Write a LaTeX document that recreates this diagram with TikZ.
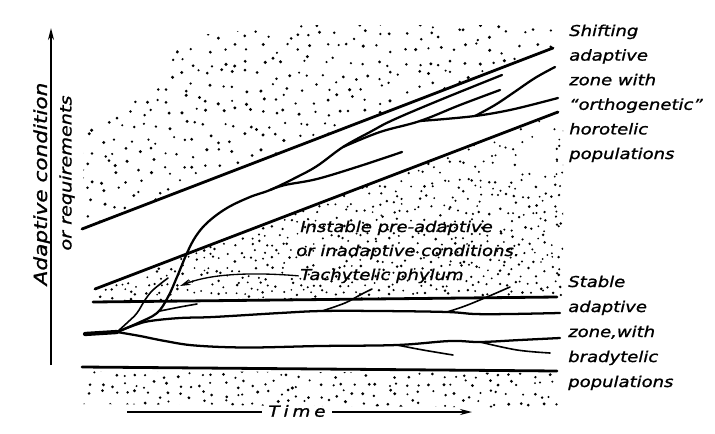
\documentclass[tikz,border=0pt]{standalone}
\usepackage{fontspec}
\usetikzlibrary{arrows.meta}
\newfontfamily\hand[FakeStretch=1.2,FakeBold=1.2]{DejaVu Sans}
\newfontfamily\handsp[FakeStretch=1.2,FakeBold=1.2,LetterSpace=25]{DejaVu Sans}
\begin{document}
\begin{tikzpicture}[x=0.75pt,y=-0.75pt,
  bound/.style={line width=2.1pt, line cap=round},
  lin/.style={line width=1.7pt, line cap=round, line join=round},
  thinlin/.style={line width=1.2pt, line cap=round, line join=round},
  lab/.style={font=\hand\itshape\fontsize{11.25}{13}\selectfont, inner sep=0pt, anchor=base west},
  stip/.style={fill=black}]
\fill[white] (0,0) rectangle (715,433);
\useasboundingbox (0,0) rectangle (715,433);
\pgfmathsetseed{17}
% ---------- stipple: upper region ----------
\begin{scope}
\clip (82,229) -- (84,150) -- (90,122) -- (130,100) -- (163,78) -- (177,50) -- (200,35) -- (300,25) -- (552,25) -- (556,45) -- (553,48) -- cycle;
\foreach \i in {78,91,...,562} {
  \foreach \j in {22,35,...,236} {
    \fill[stip] ({\i+5.5*rand},{\j+5.5*rand}) circle[radius={0.85pt+0.45pt*rnd}];
  }
}
\end{scope}
% ---------- stipple: middle region ----------
\begin{scope}
\clip (93,289) -- (558,112) -- (563,112) -- (563,297) -- (93,302) -- cycle;
\foreach \i in {90,98,...,566} {
  \foreach \j in {108,116,...,306} {
    \pgfmathtruncatemacro\keep{rnd < (0.35 + 0.6*(\j-108)/190) ? 1 : 0}
    \ifnum\keep=1
      \fill[stip] ({\i+3.5*rand},{\j+3.5*rand}) circle[radius={0.7pt+0.4pt*rnd}];
    \fi
  }
}
\end{scope}
% ---------- stipple: lower region ----------
\begin{scope}
\clip (82,371) -- (557,373) -- (560,408) -- (82,404) -- cycle;
\foreach \i in {80,91,...,562} {
  \foreach \j in {374,384,...,410} {
    \fill[stip] ({\i+4.5*rand},{\j+4*rand}) circle[radius={0.8pt+0.45pt*rnd}];
  }
}
\end{scope}
% ---------- zone boundaries ----------
\coordinate (ta) at (82,229);  \coordinate (tb) at (553,48);
\coordinate (ua) at (95,289);  \coordinate (ub) at (558,112);
\coordinate (sa) at (93,302);  \coordinate (sb) at (557,297);
\coordinate (ba) at (82,367);  \coordinate (bb) at (557,371);
\draw[bound] (ta) -- (tb);
\draw[bound] (ua) -- (ub);
\draw[bound] (sa) -- (sb);
\draw[bound] (ba) -- (bb);
% ---------- lineages ----------
\coordinate (stub) at (85,334);
\coordinate (base) at (117,332);
\coordinate (fk) at (270,190);
\coordinate (fa) at (343,147);
\coordinate (fb) at (420,121);
\coordinate (fc) at (475,116);
\coordinate (ms) at (160,311);
\coordinate (m1) at (322,311);
\coordinate (m2) at (447,312);
\coordinate (l1) at (397,345);
\coordinate (l2) at (480,342);
\draw[line width=3.2pt, line cap=round] (stub) -- (base);
% tachytelic trunk and its continuation (branch A)
\draw[lin] plot[smooth, tension=0.6] coordinates {(base) (138,323) (157,313) (168,297) (177,277) (187,253) (196,236) (208,222) (227,208) (250,197) (fk) (295,178) (317,166) (fa) (370,132) (393,120) (440,100) (502,75)};
\draw[lin] plot[smooth, tension=0.6] coordinates {(fa) (380,132) (fb) (460,105) (500,90)};
\draw[lin] plot[smooth, tension=0.6] coordinates {(fb) (445,119) (fc) (500,112) (523,107) (558,98)};
\draw[lin] plot[smooth, tension=0.6] coordinates {(fc) (495,105) (513,93) (535,78) (555,67)};
\draw[lin] plot[smooth, tension=0.6] coordinates {(fk) (285,185) (317,179) (360,166) (402,152)};
\draw[thinlin] plot[smooth, tension=0.6] coordinates {(base) (128,322) (137,313) (145,300) (153,290) (168,278)};
\draw[thinlin] plot[smooth, tension=0.6] coordinates {(ms) (180,307) (197,304)};
% stable (bradytelic) lineages
\draw[lin] plot[smooth, tension=0.6] coordinates {(base) (135,325) (150,321) (180,318) (213,317) (280,313) (m1) (380,311) (m2) (475,314) (510,314) (560,313)};
\draw[thinlin] plot[smooth, tension=0.6] coordinates {(m1) (345,303) (360,295) (372,289)};
\draw[thinlin] plot[smooth, tension=0.6] coordinates {(m2) (465,306) (487,297) (510,287)};
\draw[lin] plot[smooth, tension=0.6] coordinates {(base) (140,336) (165,341) (195,345.5) (247,347.5) (320,346) (l1) (450,341) (l2) (520,340) (560,338)};
\draw[thinlin] plot[smooth, tension=0.6] coordinates {(l1) (423,350) (453,355)};
\draw[thinlin] plot[smooth, tension=0.6] coordinates {(l2) (517,350) (550,353)};
% ---------- texts ----------
\foreach \t [count=\k] in {Shifting, adaptive, zone with, “orthogenetic”, horotelic, populations}
  \node[lab] (sh\k) at (569,{36+24.6*(\k-1)}) {\t};
\foreach \t [count=\k] in {Stable, adaptive, {zone,with}, bradytelic, populations}
  \node[lab] (st\k) at (568,{287+25*(\k-1)}) {\t};
\node[lab] (ins1) at (300,232) {Instable pre-adaptive};
\node[lab] (ins2) at (296,256) {or inadaptive conditions.};
\node[lab] (tachy) at (300,280) {Tachytelic phylum};
\coordinate (tip) at (180,286);
\draw[line width=1pt, -{Stealth[length=8pt,width=4.5pt]}] ([xshift=-1pt]tachy.west) .. controls (240,271) and (205,276) .. (tip);
% ---------- axes ----------
\coordinate (ybot) at (51,365);
\coordinate (ytop) at (51,28);
\draw[line width=1.2pt, -{Stealth[length=9pt,width=4.5pt]}] (ybot) -- (ytop);
\node[lab, anchor=center, rotate=90, font=\hand\itshape\fontsize{13.5}{15}\selectfont] (ylab1) at (42,184) {Adaptive condition};
\node[lab, anchor=center, rotate=90, font=\hand\itshape\fontsize{12}{14}\selectfont] (ylab2) at (67,173) {or requirements};
\node[lab, anchor=center, inner xsep=5pt, font=\handsp\itshape\fontsize{11.5}{13}\selectfont] (time) at (297,411) {Time};
\coordinate (tl) at (127,412);
\coordinate (tr) at (472,412);
\draw[line width=1.2pt] (tl) -- (time.west |- tl);
\draw[line width=1.2pt, -{Stealth[length=9pt,width=4.5pt]}] (time.east |- tr) -- (tr);
\end{tikzpicture}
\end{document}
